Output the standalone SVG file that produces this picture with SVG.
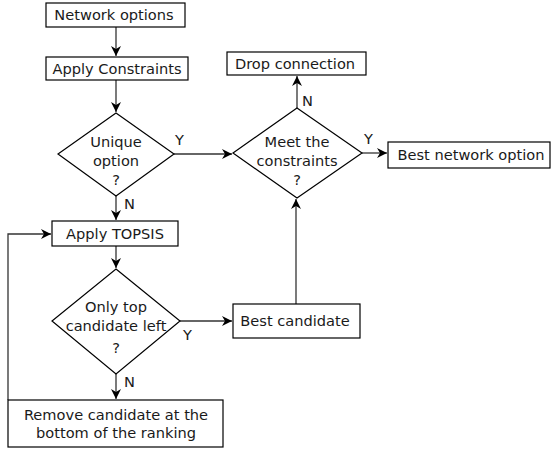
<svg xmlns="http://www.w3.org/2000/svg" width="551" height="451" viewBox="0 0 551 451">
<style>
.box{fill:#fff;stroke:#000;stroke-width:1.2}
.t{font-family:"DejaVu Sans",sans-serif;font-size:14.6px;fill:#1a1a1a;text-anchor:middle}
.l{font-family:"DejaVu Sans",sans-serif;font-size:14.6px;fill:#1a1a1a}
.c{fill:none;stroke:#333;stroke-width:1.3}
</style>
<defs>
<marker id="arr" markerUnits="userSpaceOnUse" markerWidth="12" markerHeight="12" viewBox="-11 -6 12 12" refX="0" refY="0" orient="auto">
<path d="M0,0 L-10,-5 L-7,0 L-10,5 z" fill="#000"/>
</marker>
</defs>
<rect width="551" height="451" fill="#fff"/>
<g id="connectors">
<path class="c" d="M116,27 V56" marker-end="url(#arr)"/>
<path class="c" d="M116,80 V112" marker-end="url(#arr)"/>
<path class="c" d="M116,196 V220" marker-end="url(#arr)"/>
<path class="c" d="M174,154 H232" marker-end="url(#arr)"/>
<path class="c" d="M297,108 V76" marker-end="url(#arr)"/>
<path class="c" d="M362,153 H387" marker-end="url(#arr)"/>
<path class="c" d="M116,246 V268" marker-end="url(#arr)"/>
<path class="c" d="M180,321 H232" marker-end="url(#arr)"/>
<path class="c" d="M116,374 V399" marker-end="url(#arr)"/>
<path class="c" d="M296,304 V199" marker-end="url(#arr)"/>
<path class="c" d="M8,400 V234 H51" marker-end="url(#arr)"/>
<text class="l" x="124" y="209">N</text>
<text class="l" x="175" y="145">Y</text>
<text class="l" x="302" y="106">N</text>
<text class="l" x="364" y="144">Y</text>
<text class="l" x="183" y="340">Y</text>
<text class="l" x="124" y="387">N</text>
</g>
<g id="network-options">
<rect class="box" x="46" y="3" width="139" height="24"/>
<text class="t" x="114" y="20">Network options</text>
</g>
<g id="apply-constraints">
<rect class="box" x="46" y="57" width="142" height="23"/>
<text class="t" x="117" y="74">Apply Constraints</text>
</g>
<g id="unique-option">
<polygon class="box" points="116,113 174,154 116,196 58,154"/>
<text class="t" x="116" y="147">Unique</text>
<text class="t" x="116" y="166">option</text>
<text class="t" x="116" y="185">?</text>
</g>
<g id="drop-connection">
<rect class="box" x="227" y="52" width="139" height="23"/>
<text class="t" x="295" y="69">Drop connection</text>
</g>
<g id="meet-constraints">
<polygon class="box" points="297,108 362,153 297,198 233,153"/>
<text class="t" x="297" y="147">Meet the</text>
<text class="t" x="297" y="166">constraints</text>
<text class="t" x="297" y="185">?</text>
</g>
<g id="best-network-option">
<rect class="box" x="388" y="142" width="162" height="26"/>
<text class="t" x="471" y="160">Best network option</text>
</g>
<g id="apply-topsis">
<rect class="box" x="52" y="221" width="126" height="25"/>
<text class="t" x="115" y="239">Apply TOPSIS</text>
</g>
<g id="only-top">
<polygon class="box" points="116,269 180,321 116,374 52,321"/>
<text class="t" x="116" y="312">Only top</text>
<text class="t" x="116" y="331">candidate left</text>
<text class="t" x="116" y="353">?</text>
</g>
<g id="best-candidate">
<rect class="box" x="233" y="304" width="127" height="34"/>
<text class="t" x="295" y="326">Best candidate</text>
</g>
<g id="remove-candidate">
<rect class="box" x="8" y="400" width="215" height="47"/>
<text class="t" x="116" y="420">Remove candidate at the</text>
<text class="t" x="116" y="438">bottom of the ranking</text>
</g>
</svg>
